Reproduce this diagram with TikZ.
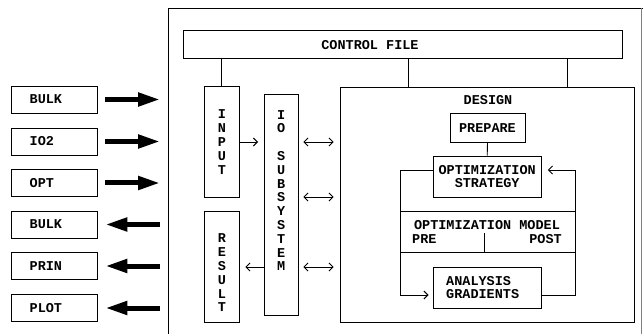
\documentclass[tikz,border=0pt]{standalone}
\usepackage{fontspec}
\newfontfamily\tw{Liberation Mono}
\usetikzlibrary{arrows.meta}
\tikzset{
  every node/.style={font=\tw\bfseries\fontsize{13.5}{13.8}\selectfont, inner sep=0pt},
  box/.style={draw, line width=0.9pt},
  ln/.style={line width=0.9pt},
  chev/.style={ln, -{Straight Barb[length=4pt,width=8pt,line width=0.9pt]}},
  dchev/.style={ln, {Straight Barb[length=4pt,width=8pt,line width=0.9pt]}-{Straight Barb[length=4pt,width=8pt,line width=0.9pt]}},
  bigarrow/.style={line width=5pt, -{Triangle[length=22pt,width=13pt]}},
}
\begin{document}
\begin{tikzpicture}[x=1pt,y=-1pt]
\useasboundingbox (0,0) rectangle (643,334);
% outer frame
\draw[ln] (168,334) -- (168,8) -- (643,8);
\draw[line width=0.5pt, black!50] (641,8) -- (641,334);
% control file
\node[box, minimum width=438.7pt, minimum height=27.8pt] (ctrl) at (402.6,44.6) {};
\node (ctrlt) at (370,44.6) {CONTROL FILE};
% input / result / io
\node[box, minimum width=34.4pt, minimum height=110.6pt] (input) at (221.8,142) {};
\node[align=center] (inputt) at (221.8,142) {I\\N\\P\\U\\T};
\node[box, minimum width=34.4pt, minimum height=111.7pt] (result) at (221.8,266.9) {};
\node[align=center] (resultt) at (221.8,273) {R\\E\\S\\U\\L\\T};
\node[box, minimum width=33.5pt, minimum height=221pt] (io) at (281.2,204.5) {};
\node[align=center] (iot) at (281.2,190.5) {I\\O\\\mbox{}\\S\\U\\B\\S\\Y\\S\\T\\E\\M};
% design
\node[box, minimum width=294pt, minimum height=235.5pt] (design) at (487,204.75) {};
\node (designt) at (488,100) {DESIGN};
\node[box, minimum width=75pt, minimum height=28.7pt] (prep) at (487.5,128.3) {PREPARE};
\node[box, minimum width=108.5pt, minimum height=41pt, align=center] (strat) at (487.2,176.5) {OPTIMIZATION\\STRATEGY};
\node[box, minimum width=108.5pt, minimum height=41pt] (anal) at (487.2,287.5) {};
\node[align=left, anchor=west] (analt) at (446,287.5) {ANALYSIS\\GRADIENTS};
\draw[ln] (prep.south) -- (strat.north);
% connections from control file
\draw[ln] (input.north) -- (input.north |- ctrl.south);
\draw[ln] (design.north -| 408,0) -- (ctrl.south -| 408,0);
\draw[ln] (design.north -| 567,0) -- (ctrl.south -| 567,0);
% optimization loop
\draw[chev, shorten >=4pt] (strat.west |- 0,170) -- (400,170) -- (400,295) -- (anal.west |- 0,295);
\draw[chev, shorten >=6pt] (anal.east |- 0,295) -- (575,295) -- (575,170) -- (strat.east |- 0,170);
\draw[ln] (400,211) -- (575,211);
\draw[ln] (400,252) -- (575,252);
\draw[ln] (484,233) -- (484,252);
\node (omod) at (487,225) {OPTIMIZATION MODEL};
\node[anchor=west] (pre) at (412,239) {PRE};
\node[anchor=east] (post) at (562,239) {POST};
% small arrows
\draw[chev, shorten >=6pt] (input.east |- 0,142) -- (io.west |- 0,142);
\draw[chev, shorten >=6pt] (io.west |- 0,267) -- (result.east |- 0,267);
\foreach \yy in {142,197,267}
  \draw[dchev, shorten <=5pt, shorten >=6pt] (io.east |- 0,\yy) -- (design.west |- 0,\yy);
% left boxes
\foreach \nm/\txt/\yy in {b1/BULK/99.5, b2/IO2/141.5, b3/OPT/183, b4/BULK/224.5, b5/PRIN/266, b6/PLOT/308} {
  \node[box, minimum width=85.5pt, minimum height=27pt] (\nm) at (54.2,\yy) {};
  \node[anchor=west] (\nm t) at (29.5,\yy) {\txt};
  \coordinate (\nm c) at (160,\yy);
}
\foreach \nm in {b1,b2,b3}
  \draw[bigarrow, shorten <=8pt] (\nm) -- (\nm c);
\foreach \nm in {b4,b5,b6}
  \draw[bigarrow, shorten >=8pt] (\nm c) -- (\nm);
\end{tikzpicture}
\end{document}
